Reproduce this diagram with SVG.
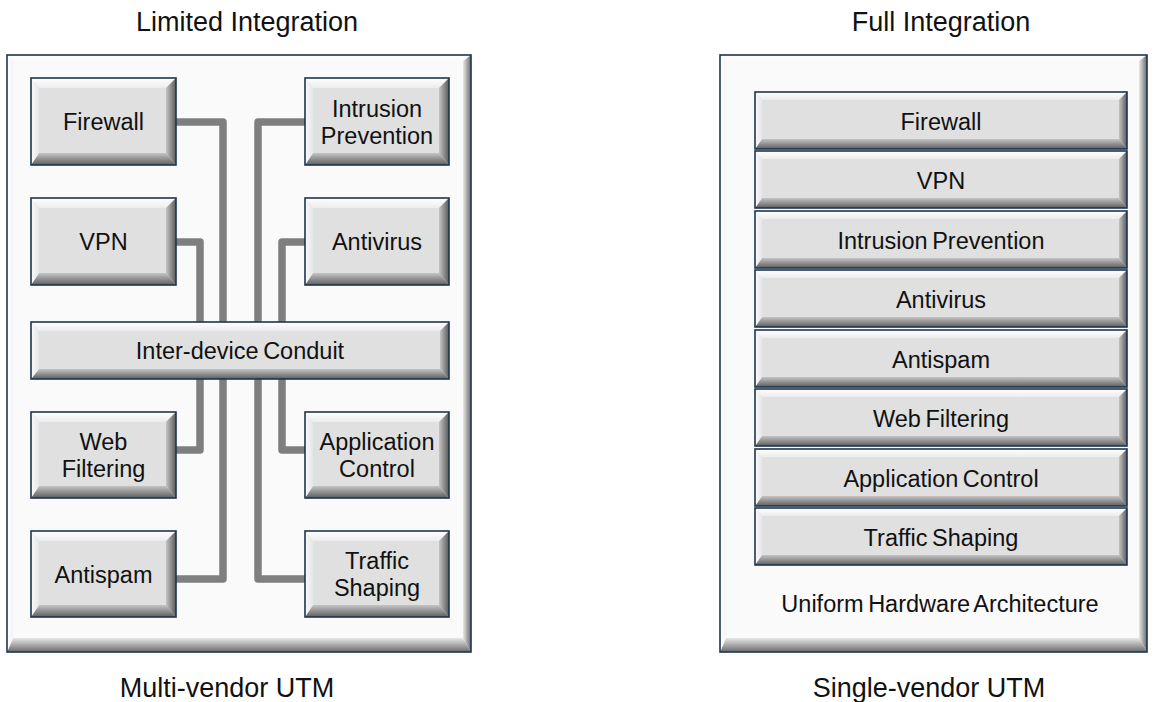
<svg xmlns="http://www.w3.org/2000/svg" width="1154" height="702" viewBox="0 0 1154 702">
<defs>
<linearGradient id="gT" x1="0" y1="0" x2="0" y2="1"><stop offset="0" stop-color="#ffffff"/><stop offset="1" stop-color="#ececec"/></linearGradient>
<linearGradient id="gB" x1="0" y1="0" x2="0" y2="1"><stop offset="0" stop-color="#c4c4c4"/><stop offset="1" stop-color="#5e5e5e"/></linearGradient>
<linearGradient id="gL" x1="0" y1="0" x2="1" y2="0"><stop offset="0" stop-color="#fafafa"/><stop offset="1" stop-color="#e6e6e6"/></linearGradient>
<linearGradient id="gR" x1="0" y1="0" x2="1" y2="0"><stop offset="0" stop-color="#c4c4c4"/><stop offset="1" stop-color="#5a5a5a"/></linearGradient>
<linearGradient id="oT" x1="0" y1="0" x2="0" y2="1"><stop offset="0" stop-color="#ffffff"/><stop offset="1" stop-color="#fbfbfb"/></linearGradient>
<linearGradient id="oB" x1="0" y1="0" x2="0" y2="1"><stop offset="0" stop-color="#e8e8e8"/><stop offset="1" stop-color="#6a6a6a"/></linearGradient>
<linearGradient id="oL" x1="0" y1="0" x2="1" y2="0"><stop offset="0" stop-color="#ffffff"/><stop offset="1" stop-color="#f4f4f4"/></linearGradient>
<linearGradient id="oR" x1="0" y1="0" x2="1" y2="0"><stop offset="0" stop-color="#e8e8e8"/><stop offset="1" stop-color="#6a6a6a"/></linearGradient>
</defs>
<style>
.t{font-family:"Liberation Sans",Arial,sans-serif;font-size:23.5px;fill:#111;text-anchor:middle;word-spacing:-2px}
.ti{font-size:27px;word-spacing:0}
.con{fill:none;stroke:#7f7f7f;stroke-width:7.5;stroke-linejoin:round;stroke-linecap:butt}
.face{fill:#e0e0e0}
.oface{fill:#fafafa}
.edge{fill:none;stroke:#1e3550;stroke-width:1.6}
.bt{fill:url(#gT)}.bb{fill:url(#gB)}.bl{fill:url(#gL)}.br{fill:url(#gR)}
.ot{fill:url(#oT)}.ob{fill:url(#oB)}.ol{fill:url(#oL)}.or{fill:url(#oR)}
</style>
<rect width="1154" height="702" fill="#ffffff"/>

<text class="t ti" x="247" y="31">Limited Integration</text>
<text class="t ti" x="941" y="31">Full Integration</text>
<text class="t ti" x="227" y="697">Multi-vendor UTM</text>
<text class="t ti" x="929" y="697">Single-vendor UTM</text>

<g id="panel-left">
<rect class="oface" x="7" y="55" width="464" height="597"/>
<polygon class="ot" points="7,55 471,55 463,61 13,61"/>
<polygon class="ob" points="7,652 471,652 463,638 13,638"/>
<polygon class="ol" points="7,55 13,61 13,638 7,652"/>
<polygon class="or" points="471,55 463,61 463,638 471,652"/>
<rect class="edge" x="7" y="55" width="464" height="597"/>
</g>

<g id="panel-right">
<rect class="oface" x="720" y="55" width="427" height="597"/>
<polygon class="ot" points="720,55 1147,55 1139,61 726,61"/>
<polygon class="ob" points="720,652 1147,652 1139,638 726,638"/>
<polygon class="ol" points="720,55 726,61 726,638 720,652"/>
<polygon class="or" points="1147,55 1139,61 1139,638 1147,652"/>
<rect class="edge" x="720" y="55" width="427" height="597"/>
<text class="t" x="940" y="612">Uniform Hardware Architecture</text>
</g>

<g id="connectors">
<path class="con" d="M170,122 H223 V579 H170"/>
<path class="con" d="M170,242 H200 V450 H170"/>
<path class="con" d="M311,122 H258 V579 H311"/>
<path class="con" d="M311,242 H282 V450 H311"/>
</g>

<g id="firewall-l">
<rect class="face" x="31" y="78" width="145" height="87"/>
<polygon class="bt" points="31,78 176,78 166,88 39,88"/>
<polygon class="bb" points="31,165 176,165 166,153 39,153"/>
<polygon class="bl" points="31,78 39,88 39,153 31,165"/>
<polygon class="br" points="176,78 166,88 166,153 176,165"/>
<rect class="edge" x="31" y="78" width="145" height="87"/>
<text class="t" x="103.5" y="130">Firewall</text>
</g>

<g id="vpn-l">
<rect class="face" x="31" y="198" width="145" height="87"/>
<polygon class="bt" points="31,198 176,198 166,208 39,208"/>
<polygon class="bb" points="31,285 176,285 166,273 39,273"/>
<polygon class="bl" points="31,198 39,208 39,273 31,285"/>
<polygon class="br" points="176,198 166,208 166,273 176,285"/>
<rect class="edge" x="31" y="198" width="145" height="87"/>
<text class="t" x="103.5" y="250">VPN</text>
</g>

<g id="webfilter-l">
<rect class="face" x="31" y="412" width="145" height="86"/>
<polygon class="bt" points="31,412 176,412 166,422 39,422"/>
<polygon class="bb" points="31,498 176,498 166,486 39,486"/>
<polygon class="bl" points="31,412 39,422 39,486 31,498"/>
<polygon class="br" points="176,412 166,422 166,486 176,498"/>
<rect class="edge" x="31" y="412" width="145" height="86"/>
<text class="t" x="103.5" y="450">Web</text>
<text class="t" x="103.5" y="477">Filtering</text>
</g>

<g id="antispam-l">
<rect class="face" x="31" y="531" width="145" height="86"/>
<polygon class="bt" points="31,531 176,531 166,541 39,541"/>
<polygon class="bb" points="31,617 176,617 166,605 39,605"/>
<polygon class="bl" points="31,531 39,541 39,605 31,617"/>
<polygon class="br" points="176,531 166,541 166,605 176,617"/>
<rect class="edge" x="31" y="531" width="145" height="86"/>
<text class="t" x="103.5" y="582.5">Antispam</text>
</g>

<g id="ips-l">
<rect class="face" x="305" y="78" width="144" height="87"/>
<polygon class="bt" points="305,78 449,78 439,88 313,88"/>
<polygon class="bb" points="305,165 449,165 439,153 313,153"/>
<polygon class="bl" points="305,78 313,88 313,153 305,165"/>
<polygon class="br" points="449,78 439,88 439,153 449,165"/>
<rect class="edge" x="305" y="78" width="144" height="87"/>
<text class="t" x="377" y="117">Intrusion</text>
<text class="t" x="377" y="144">Prevention</text>
</g>

<g id="antivirus-l">
<rect class="face" x="305" y="198" width="144" height="87"/>
<polygon class="bt" points="305,198 449,198 439,208 313,208"/>
<polygon class="bb" points="305,285 449,285 439,273 313,273"/>
<polygon class="bl" points="305,198 313,208 313,273 305,285"/>
<polygon class="br" points="449,198 439,208 439,273 449,285"/>
<rect class="edge" x="305" y="198" width="144" height="87"/>
<text class="t" x="377" y="250">Antivirus</text>
</g>

<g id="appctrl-l">
<rect class="face" x="305" y="412" width="144" height="86"/>
<polygon class="bt" points="305,412 449,412 439,422 313,422"/>
<polygon class="bb" points="305,498 449,498 439,486 313,486"/>
<polygon class="bl" points="305,412 313,422 313,486 305,498"/>
<polygon class="br" points="449,412 439,422 439,486 449,498"/>
<rect class="edge" x="305" y="412" width="144" height="86"/>
<text class="t" x="377" y="450">Application</text>
<text class="t" x="377" y="477">Control</text>
</g>

<g id="traffic-l">
<rect class="face" x="305" y="531" width="144" height="86"/>
<polygon class="bt" points="305,531 449,531 439,541 313,541"/>
<polygon class="bb" points="305,617 449,617 439,605 313,605"/>
<polygon class="bl" points="305,531 313,541 313,605 305,617"/>
<polygon class="br" points="449,531 439,541 439,605 449,617"/>
<rect class="edge" x="305" y="531" width="144" height="86"/>
<text class="t" x="377" y="569">Traffic</text>
<text class="t" x="377" y="596">Shaping</text>
</g>

<g id="conduit">
<rect class="face" x="31" y="322" width="418" height="57"/>
<polygon class="bt" points="31,322 449,322 440,331 39,331"/>
<polygon class="bb" points="31,379 449,379 440,369 39,369"/>
<polygon class="bl" points="31,322 39,331 39,369 31,379"/>
<polygon class="br" points="449,322 440,331 440,369 449,379"/>
<rect class="edge" x="31" y="322" width="418" height="57"/>
<text class="t" x="240" y="359">Inter-device Conduit</text>
</g>

<g id="firewall-r">
<rect class="face" x="755" y="92" width="372" height="57"/>
<polygon class="bt" points="755,92 1127,92 1119,100 762,100"/>
<polygon class="bb" points="755,149 1127,149 1119,139 762,139"/>
<polygon class="bl" points="755,92 762,100 762,139 755,149"/>
<polygon class="br" points="1127,92 1119,100 1119,139 1127,149"/>
<rect class="edge" x="755" y="92" width="372" height="57"/>
<text class="t" x="941" y="129.5">Firewall</text>
</g>

<g id="vpn-r">
<rect class="face" x="755" y="151" width="372" height="57"/>
<polygon class="bt" points="755,151 1127,151 1119,159 762,159"/>
<polygon class="bb" points="755,208 1127,208 1119,198 762,198"/>
<polygon class="bl" points="755,151 762,159 762,198 755,208"/>
<polygon class="br" points="1127,151 1119,159 1119,198 1127,208"/>
<rect class="edge" x="755" y="151" width="372" height="57"/>
<text class="t" x="941" y="188.5">VPN</text>
</g>

<g id="ips-r">
<rect class="face" x="755" y="211" width="372" height="57"/>
<polygon class="bt" points="755,211 1127,211 1119,219 762,219"/>
<polygon class="bb" points="755,268 1127,268 1119,258 762,258"/>
<polygon class="bl" points="755,211 762,219 762,258 755,268"/>
<polygon class="br" points="1127,211 1119,219 1119,258 1127,268"/>
<rect class="edge" x="755" y="211" width="372" height="57"/>
<text class="t" x="941" y="248.5">Intrusion Prevention</text>
</g>

<g id="antivirus-r">
<rect class="face" x="755" y="270" width="372" height="57"/>
<polygon class="bt" points="755,270 1127,270 1119,278 762,278"/>
<polygon class="bb" points="755,327 1127,327 1119,317 762,317"/>
<polygon class="bl" points="755,270 762,278 762,317 755,327"/>
<polygon class="br" points="1127,270 1119,278 1119,317 1127,327"/>
<rect class="edge" x="755" y="270" width="372" height="57"/>
<text class="t" x="941" y="307.5">Antivirus</text>
</g>

<g id="antispam-r">
<rect class="face" x="755" y="330" width="372" height="57"/>
<polygon class="bt" points="755,330 1127,330 1119,338 762,338"/>
<polygon class="bb" points="755,387 1127,387 1119,377 762,377"/>
<polygon class="bl" points="755,330 762,338 762,377 755,387"/>
<polygon class="br" points="1127,330 1119,338 1119,377 1127,387"/>
<rect class="edge" x="755" y="330" width="372" height="57"/>
<text class="t" x="941" y="367.5">Antispam</text>
</g>

<g id="webfilter-r">
<rect class="face" x="755" y="389" width="372" height="57"/>
<polygon class="bt" points="755,389 1127,389 1119,397 762,397"/>
<polygon class="bb" points="755,446 1127,446 1119,436 762,436"/>
<polygon class="bl" points="755,389 762,397 762,436 755,446"/>
<polygon class="br" points="1127,389 1119,397 1119,436 1127,446"/>
<rect class="edge" x="755" y="389" width="372" height="57"/>
<text class="t" x="941" y="426.5">Web Filtering</text>
</g>

<g id="appctrl-r">
<rect class="face" x="755" y="449" width="372" height="57"/>
<polygon class="bt" points="755,449 1127,449 1119,457 762,457"/>
<polygon class="bb" points="755,506 1127,506 1119,496 762,496"/>
<polygon class="bl" points="755,449 762,457 762,496 755,506"/>
<polygon class="br" points="1127,449 1119,457 1119,496 1127,506"/>
<rect class="edge" x="755" y="449" width="372" height="57"/>
<text class="t" x="941" y="486.5">Application Control</text>
</g>

<g id="traffic-r">
<rect class="face" x="755" y="508" width="372" height="57"/>
<polygon class="bt" points="755,508 1127,508 1119,516 762,516"/>
<polygon class="bb" points="755,565 1127,565 1119,555 762,555"/>
<polygon class="bl" points="755,508 762,516 762,555 755,565"/>
<polygon class="br" points="1127,508 1119,516 1119,555 1127,565"/>
<rect class="edge" x="755" y="508" width="372" height="57"/>
<text class="t" x="941" y="545.5">Traffic Shaping</text>
</g>
</svg>
